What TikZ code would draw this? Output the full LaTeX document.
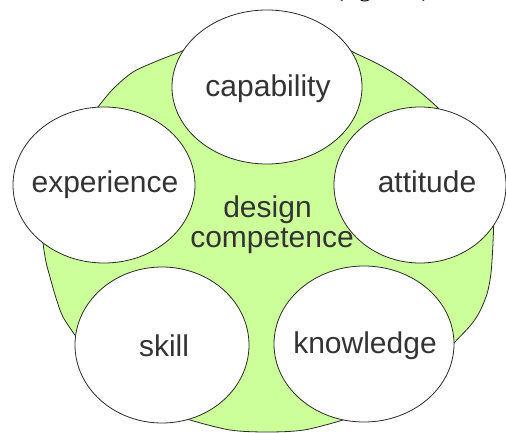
\documentclass[tikz,border=0pt]{standalone}
\usepackage{fontspec}
\setmainfont{Liberation Sans}
\newfontfamily\figserif{Liberation Serif}
\usetikzlibrary{shapes.geometric}
\definecolor{softgreen}{HTML}{CCFF99}
\definecolor{inkgray}{HTML}{333333}
\definecolor{linegray}{HTML}{2A2A2A}
\tikzset{
  bubble/.style={ellipse, draw=linegray, line width=0.8pt, fill=white, inner sep=0pt},
  lbl/.style={anchor=base, text=inkgray, inner sep=0pt, font=\fontsize{30}{36}\selectfont},
}
\begin{document}
\begin{tikzpicture}[x=1pt,y=-1pt]
\useasboundingbox (0,0) rectangle (506,433);
% caption fragment
\node[anchor=base west, inner sep=0pt, font=\figserif\fontsize{25}{30}\selectfont] (cap0) at (335,-3.5) {(figure 1)};
% green region
\filldraw[fill=softgreen, draw=linegray, line width=0.8pt]
  plot[smooth] coordinates {(180,415) (190,420) (230,430) (267,432) (304,430) (343,420) (353,415)}
  -- plot[smooth] coordinates {(448,352) (455,342) (470,326) (479,313) (487,294) (491,273) (493,243) (494,215)}
  -- plot[smooth] coordinates {(447,118) (437,107) (420,92) (400,77) (378,64) (355,53) (346,48)}
  -- plot[smooth] coordinates {(188,48) (180,52) (157,61) (133,72) (113,89) (97,108) (88,118)}
  -- plot[smooth] coordinates {(42,225) (43,243) (46,262) (50,277) (56,298) (63,317) (77,338) (84,348)}
  -- cycle;
% bubbles
\node[bubble, minimum width=190pt, minimum height=154pt] (capability) at (267,87) {};
\node[bubble, minimum width=182pt, minimum height=156pt] (experience) at (104,185) {};
\node[bubble, minimum width=172pt, minimum height=156pt] (attitude) at (420,185) {};
\node[bubble, minimum width=174pt, minimum height=156pt] (skill) at (162,345) {};
\node[bubble, minimum width=180pt, minimum height=156pt] (knowledge) at (364,344) {};
% labels
\node[lbl] (tcap) at (268,97) {capability};
\node[lbl] (texp) at (105,193) {experience};
\node[lbl] (tatt) at (427,193) {attitude};
\node[lbl] (tskill) at (164,356) {skill};
\node[lbl] (tknow) at (365,353) {knowledge};
\node[lbl] (tdesign) at (267.5,217) {design};
\node[lbl] (tcomp) at (272,247) {competence};
\end{tikzpicture}
\end{document}
